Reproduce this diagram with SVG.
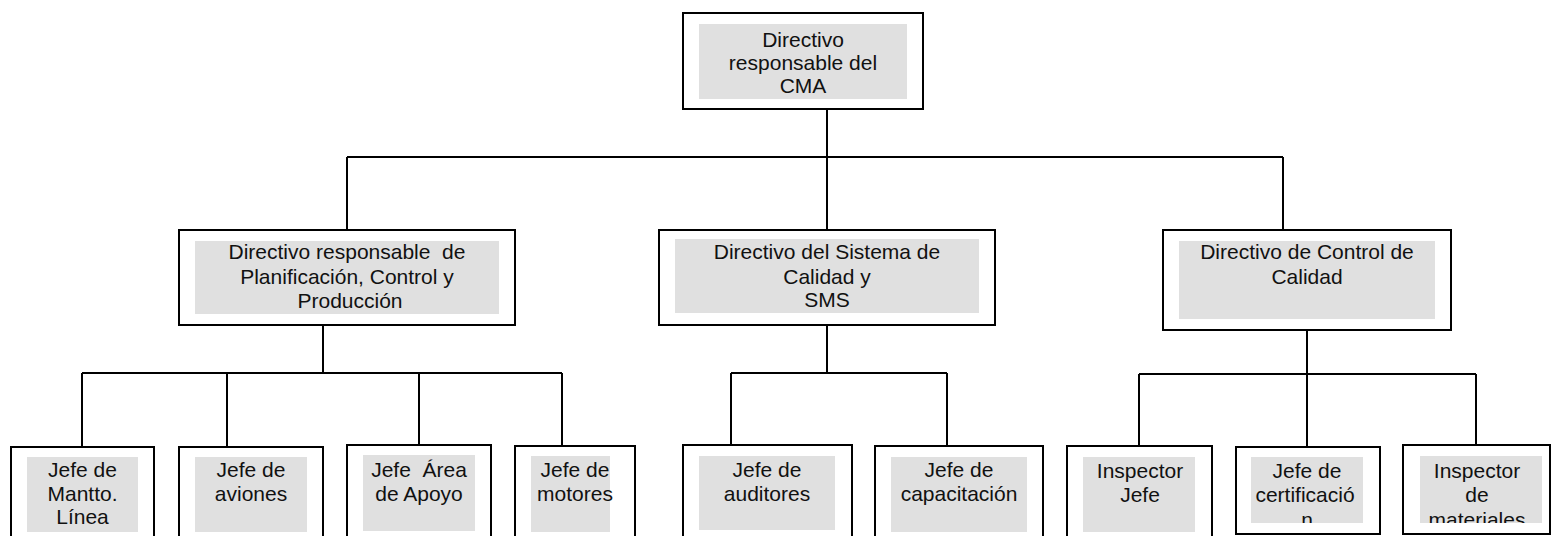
<svg xmlns="http://www.w3.org/2000/svg" width="1553" height="536" viewBox="0 0 1553 536">
<style>
.box{fill:#fff;stroke:#000;stroke-width:2}
.bg{fill:#e0e0e0}
.t{font-family:"Liberation Sans",Arial,sans-serif;font-size:21px;fill:#111;text-anchor:middle;white-space:pre}
.c{fill:none;stroke:#000;stroke-width:2}
</style>
<defs>
<clipPath id="clip8"><rect x="1251" y="457" width="112" height="66"/></clipPath>
<clipPath id="clip9"><rect x="1420" y="456" width="122" height="67"/></clipPath>
</defs>
<rect width="1553" height="536" fill="#fff"/>
<g id="connectors">
<path class="c" d="M827 109V157M347 157H1283M347 157V230M827 157V230M1283 157V229"/>
<path class="c" d="M323 325V373M82 373H562M82 373V447M227 373V447M419 373V445M562 373V446"/>
<path class="c" d="M827 325V373M731 373H947M731 373V445M947 373V446"/>
<path class="c" d="M1307 330V374M1139 374H1476M1139 374V446M1307 374V447M1476 374V445"/>
</g>
<g id="n-cma">
<rect class="box" x="683" y="13" width="240" height="96"/>
<rect class="bg" x="699" y="24" width="208" height="75"/>
<text class="t" x="803" y="47">Directivo</text>
<text class="t" x="803" y="70">responsable del</text>
<text class="t" x="803" y="93">CMA</text>
</g>
<g id="n-planificacion">
<rect class="box" x="179" y="230" width="336" height="95"/>
<rect class="bg" x="195" y="241" width="304" height="73"/>
<text class="t" x="347" y="259" xml:space="preserve">Directivo responsable  de</text>
<text class="t" x="347" y="283.5">Planificación, Control y</text>
<text class="t" x="350" y="308">Producción</text>
</g>
<g id="n-sistema-calidad">
<rect class="box" x="659" y="230" width="336" height="95"/>
<rect class="bg" x="675" y="239" width="304" height="74"/>
<text class="t" x="827" y="259">Directivo del Sistema de</text>
<text class="t" x="827" y="284">Calidad y</text>
<text class="t" x="827" y="307">SMS</text>
</g>
<g id="n-control-calidad">
<rect class="box" x="1163" y="230" width="288" height="100"/>
<rect class="bg" x="1179" y="241" width="256" height="78"/>
<text class="t" x="1307" y="259">Directivo de Control de</text>
<text class="t" x="1307" y="284">Calidad</text>
</g>
<g id="n-mantto">
<rect class="box" x="11" y="447" width="143" height="100"/>
<rect class="bg" x="27" y="457" width="111" height="75"/>
<text class="t" x="82.5" y="477">Jefe de</text>
<text class="t" x="82.5" y="500.5">Mantto.</text>
<text class="t" x="82.5" y="524">Línea</text>
</g>
<g id="n-aviones">
<rect class="box" x="179" y="447" width="144" height="100"/>
<rect class="bg" x="195" y="457" width="112" height="75"/>
<text class="t" x="251" y="477">Jefe de</text>
<text class="t" x="251" y="500.5">aviones</text>
</g>
<g id="n-apoyo">
<rect class="box" x="347" y="445" width="144" height="100"/>
<rect class="bg" x="363" y="455" width="112" height="76"/>
<text class="t" x="419" y="477" xml:space="preserve">Jefe  Área</text>
<text class="t" x="419" y="500.5">de Apoyo</text>
</g>
<g id="n-motores">
<rect class="box" x="515" y="446" width="120" height="100"/>
<rect class="bg" x="531" y="456" width="79" height="76"/>
<text class="t" x="575" y="477">Jefe de</text>
<text class="t" x="575" y="500.5">motores</text>
</g>
<g id="n-auditores">
<rect class="box" x="683" y="445" width="169" height="100"/>
<rect class="bg" x="699" y="456" width="136" height="74"/>
<text class="t" x="767" y="477">Jefe de</text>
<text class="t" x="767" y="500.5">auditores</text>
</g>
<g id="n-capacitacion">
<rect class="box" x="875" y="446" width="168" height="100"/>
<rect class="bg" x="891" y="457" width="136" height="75"/>
<text class="t" x="959" y="477">Jefe de</text>
<text class="t" x="959" y="500.5">capacitación</text>
</g>
<g id="n-inspector-jefe">
<rect class="box" x="1067" y="446" width="145" height="100"/>
<rect class="bg" x="1083" y="457" width="112" height="75"/>
<text class="t" x="1140" y="478">Inspector</text>
<text class="t" x="1140" y="501.5">Jefe</text>
</g>
<g id="n-certificacion">
<rect class="box" x="1236" y="447" width="144" height="87"/>
<rect class="bg" x="1251" y="457" width="112" height="66"/>
<g clip-path="url(#clip8)">
<text class="t" x="1307" y="478">Jefe de</text>
<text class="t" x="1305" y="502">certificació</text>
<text class="t" x="1307" y="527">n</text>
</g>
</g>
<g id="n-materiales">
<rect class="box" x="1403" y="445" width="147" height="89"/>
<rect class="bg" x="1420" y="456" width="122" height="67"/>
<g clip-path="url(#clip9)">
<text class="t" x="1477" y="478">Inspector</text>
<text class="t" x="1477" y="501.5">de</text>
<text class="t" x="1477" y="527">materiales</text>
</g>
</g>
</svg>
